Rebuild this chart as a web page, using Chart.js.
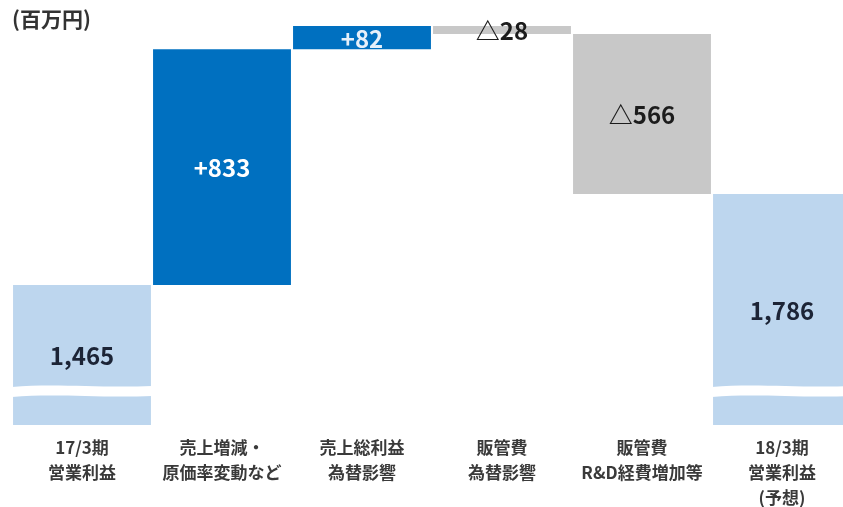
<!DOCTYPE html>
<html>
<head>
<meta charset="utf-8">
<script src="https://cdn.jsdelivr.net/npm/chart.js@4/dist/chart.umd.min.js"></script>
<style>
  html, body { margin: 0; padding: 0; background: #ffffff; overflow: hidden; width: 843px; height: 507px; }
  #wrap { position: absolute; left: 0; top: 0; width: 852px; height: 507px; }
</style>
</head>
<body>
<div id="wrap"><canvas id="c" width="852" height="507"></canvas></div>
<script>
// ---- data ----
const unitLabel = '(百万円)';
const categories = [
  ['17/3期', '営業利益'],
  ['売上増減・', '原価率変動など'],
  ['売上総利益', '為替影響'],
  ['販管費', '為替影響'],
  ['販管費', 'R&D経費増加等'],
  ['18/3期', '営業利益', '(予想)']
];
const values = [1465, 833, 82, -28, -566, 1786];      // totals at ends, changes between
const isTotal = [true, false, false, false, false, true];
const valueLabels = ['1,465', '+833', '+82', '△28', '△566', '1,786'];
const barColors = ['#bdd6ee', '#0070c0', '#0070c0', '#c8c8c8', '#c8c8c8', '#bdd6ee'];
const labelColors = ['#1c2436', '#ffffff', '#e6f0fa', '#1c1c1c', '#1c1c1c', '#1c2436'];
const axisMin = 970;
const axisMax = 2472;

// floating ranges built from the values
const ranges = [];
let running = 0;
values.forEach((v, i) => {
  if (isTotal[i]) { ranges.push([0, v]); running = v; }
  else { ranges.push([running, running + v]); running += v; }
});

const FONT = "'Noto Sans CJK JP', 'Noto Sans', sans-serif";

const decorations = {
  id: 'decorations',
  afterDatasetsDraw(chart) {
    const { ctx, chartArea } = chart;
    const meta = chart.getDatasetMeta(0);
    // broken-axis band across the total bars
    const yTop = chartArea.bottom - 40;
    const h = 10;
    ctx.save();
    ctx.fillStyle = '#ffffff';
    meta.data.forEach((bar, i) => {
      if (!isTotal[i]) return;
      const l = bar.x - bar.width / 2 - 1, r = bar.x + bar.width / 2 + 1;
      const w = r - l;
      ctx.beginPath();
      ctx.moveTo(l, yTop + 2);
      ctx.bezierCurveTo(l + w * 0.3, yTop - 2, l + w * 0.6, yTop + 3, r, yTop + 1);
      ctx.lineTo(r, yTop + h + 1);
      ctx.bezierCurveTo(l + w * 0.6, yTop + h + 3, l + w * 0.3, yTop + h - 2, l, yTop + h + 2);
      ctx.closePath();
      ctx.fill();
    });
    // value labels at the centre of the visible part of each bar
    ctx.textAlign = 'center';
    ctx.textBaseline = 'middle';
    ctx.font = "bold 24px " + FONT;
    meta.data.forEach((bar, i) => {
      const top = Math.min(bar.y, bar.base);
      const bottom = Math.min(Math.max(bar.y, bar.base), chartArea.bottom);
      ctx.fillStyle = labelColors[i];
      ctx.fillText(valueLabels[i], bar.x, (top + bottom) / 2 + 1);
    });
    // unit label
    ctx.textAlign = 'left';
    ctx.fillStyle = '#333333';
    ctx.font = "bold 21px " + FONT;
    ctx.fillText(unitLabel, 12, 19);
    ctx.restore();
  }
};

new Chart(document.getElementById('c'), {
  type: 'bar',
  data: {
    labels: categories,
    datasets: [{
      data: ranges,
      backgroundColor: barColors,
      borderWidth: 0,
      barPercentage: 0.985,
      categoryPercentage: 1.0
    }]
  },
  options: {
    responsive: false,
    animation: false,
    layout: { padding: { left: 12, right: 0, top: 0, bottom: 0 } },
    plugins: { legend: { display: false }, tooltip: { enabled: false } },
    scales: {
      x: {
        grid: { display: false },
        border: { display: false },
        ticks: {
          color: '#3a3a3a',
          padding: 2,
          maxRotation: 0,
          autoSkip: false,
          font: { family: FONT, size: 17, weight: 'bold', lineHeight: 1.47 }
        },
        afterFit(scale) { scale.height = 82; }
      },
      y: {
        display: false,
        min: axisMin,
        max: axisMax
      }
    }
  },
  plugins: [decorations]
});
</script>
</body>
</html>
